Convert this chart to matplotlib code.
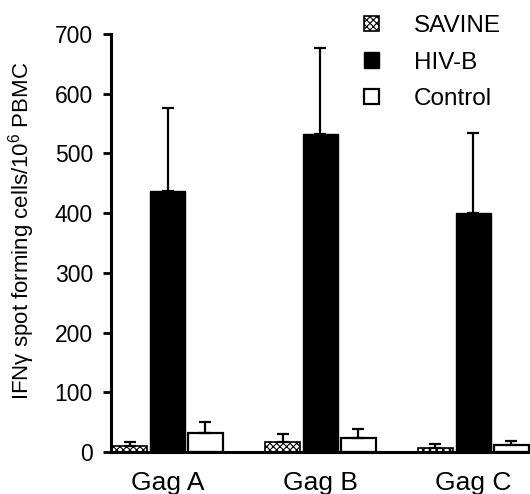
import numpy as np
import matplotlib
matplotlib.use("Agg")
import matplotlib.pyplot as plt
from matplotlib.patches import Patch

plt.rcParams['font.family'] = ['Liberation Sans', 'DejaVu Sans']
plt.rcParams['mathtext.fontset'] = 'custom'
plt.rcParams['mathtext.rm'] = 'Liberation Sans'
plt.rcParams['hatch.color'] = '#555555'
plt.rcParams['hatch.linewidth'] = 0.8

groups = ["Gag A", "Gag B", "Gag C"]
savine = [10, 16, 6]
savine_err = [7, 15, 7]
hivb = [438, 532, 400]
hivb_err = [139, 145, 135]
control = [32, 23, 11]
control_err = [19, 15, 7]

x = np.arange(len(groups))
w = 0.229
off = 0.248

fig = plt.figure(figsize=(5.3, 4.94), dpi=100)
ax = fig.add_axes([0.2094, 0.085, 0.7906, 0.846])

ekw = dict(capsize=4, elinewidth=1.6, capthick=1.6, ecolor='black')
lo = [0, 0, 0]
ax.bar(x - off, savine, w, color='white', edgecolor='black', hatch='xxxxx',
       linewidth=1.2, yerr=[lo, savine_err], error_kw=ekw, label='SAVINE')
ax.bar(x, hivb, w, color='black', edgecolor='black',
       yerr=[lo, hivb_err], error_kw=ekw, label='HIV-B', zorder=1)
ax.bar(x + off, control, w, color='white', edgecolor='black',
       linewidth=1.6, yerr=[lo, control_err], error_kw=ekw, label='Control')

ax.set_xlim(-0.37, 2.37)
ax.set_ylim(0, 700)
ax.set_yticks(range(0, 701, 100))
ax.set_xticks(x)
ax.set_xticklabels(groups, fontsize=19)
ax.tick_params(axis='x', length=0, pad=14)
ax.tick_params(axis='y', labelsize=16.5, length=6, width=2, pad=7)

for s in ['top', 'right']:
    ax.spines[s].set_visible(False)
ax.spines['left'].set_linewidth(2.2)
ax.spines['bottom'].set_linewidth(2.2)

ax.set_ylabel("IFN\u03b3 spot forming cells/10$\\mathregular{^6}$ PBMC", fontsize=16)
ax.yaxis.set_label_coords(-0.176, 0.53)

handles = [Patch(facecolor='white', edgecolor='black', hatch='xxxxx', linewidth=1.2),
           Patch(facecolor='black', edgecolor='black'),
           Patch(facecolor='white', edgecolor='black', linewidth=1.6)]
fig.legend(handles, ["SAVINE", "HIV-B", "Control"], loc='upper left',
           bbox_to_anchor=(364 / 530, 1 - 15 / 494), frameon=False, fontsize=17.5,
           handlelength=0.6, handleheight=0.6, handletextpad=1.45,
           labelspacing=0.6, borderpad=0, borderaxespad=0)

fig.savefig("out.png", dpi=100)
